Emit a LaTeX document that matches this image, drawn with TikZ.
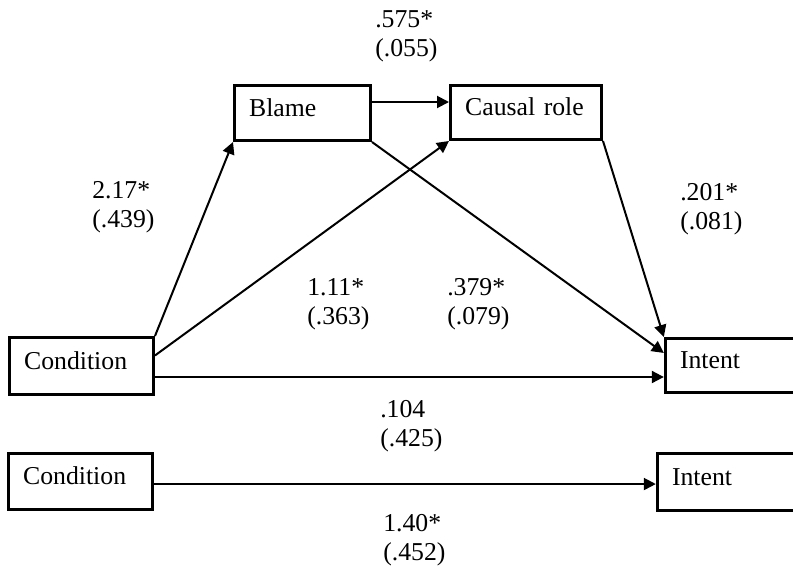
\documentclass[tikz,border=0pt]{standalone}
\usepackage{fontspec}
\setmainfont{Liberation Serif}
\usetikzlibrary{arrows.meta}

\begin{document}
\begin{tikzpicture}[x=0.75pt,y=-0.75pt,
        var/.style={rectangle,draw,line width=2.25pt,
                    inner xsep=11pt,align=left,
                    text height=13.2pt,text depth=8.7pt,
                    font=\fontsize{19.3pt}{21.75pt}\selectfont},
        coef/.style={anchor=base west,inner sep=0pt,align=left,
                    font=\fontsize{19.3pt}{21.75pt}\selectfont},
        eff/.style={-{Triangle[length=9pt,width=9pt]},line width=1.5pt}]
    \useasboundingbox (0,0) rectangle (793,569);

    % mediation model
    \node[var,text width=80pt,minimum height=41.25pt] (blame) at (302.5,113) {Blame};
    \node[var,text width=91.25pt,minimum height=40.5pt] (causal) at (526,112.5) {Causal role};
    \node[var,text width=86pt,minimum height=42.75pt] (cond) at (81.5,366) {Condition};
    \node[var,text width=90pt,minimum height=40.5pt] (intent) at (740,365.5) {Intent};

    % total effect
    \node[var,text width=86pt,minimum height=42pt] (cond2) at (80.5,481.5) {Condition};
    \node[var,text width=90pt,minimum height=42.75pt] (intent2) at (732,482) {Intent};

    \draw[eff] (cond.north east) -- (blame.south west);
    \draw[eff] ([yshift=7.9pt]cond.east) -- (causal.south west);
    \draw[eff] ([yshift=-8.25pt]cond.east) -- ([yshift=-8.25pt]cond.east -| intent.west);
    \draw[eff] ([yshift=8.25pt]blame.east) -- ([yshift=8.25pt]blame.east -| causal.west);
    \draw[eff] (blame.south east) -- ([yshift=9.4pt]intent.west);
    \draw[eff] (causal.south east) -- (intent.north west);
    \draw[eff] ([yshift=-1.9pt]cond2.east) -- ([yshift=-1.9pt]cond2.east -| intent2.west);

    % coefficients (base = second line)
    \node[coef] (bc) at (375,56) {.575*\\(.055)};
    \node[coef] (cb) at (92,227) {2.17*\\(.439)};
    \node[coef] (cc) at (307,324) {1.11*\\(.363)};
    \node[coef] (bi) at (447,324) {.379*\\(.079)};
    \node[coef] (ci) at (680,229) {.201*\\(.081)};
    \node[coef] (di) at (380,446) {.104\\(.425)};
    \node[coef] (ti) at (383,560) {1.40*\\(.452)};
\end{tikzpicture}
\end{document}
